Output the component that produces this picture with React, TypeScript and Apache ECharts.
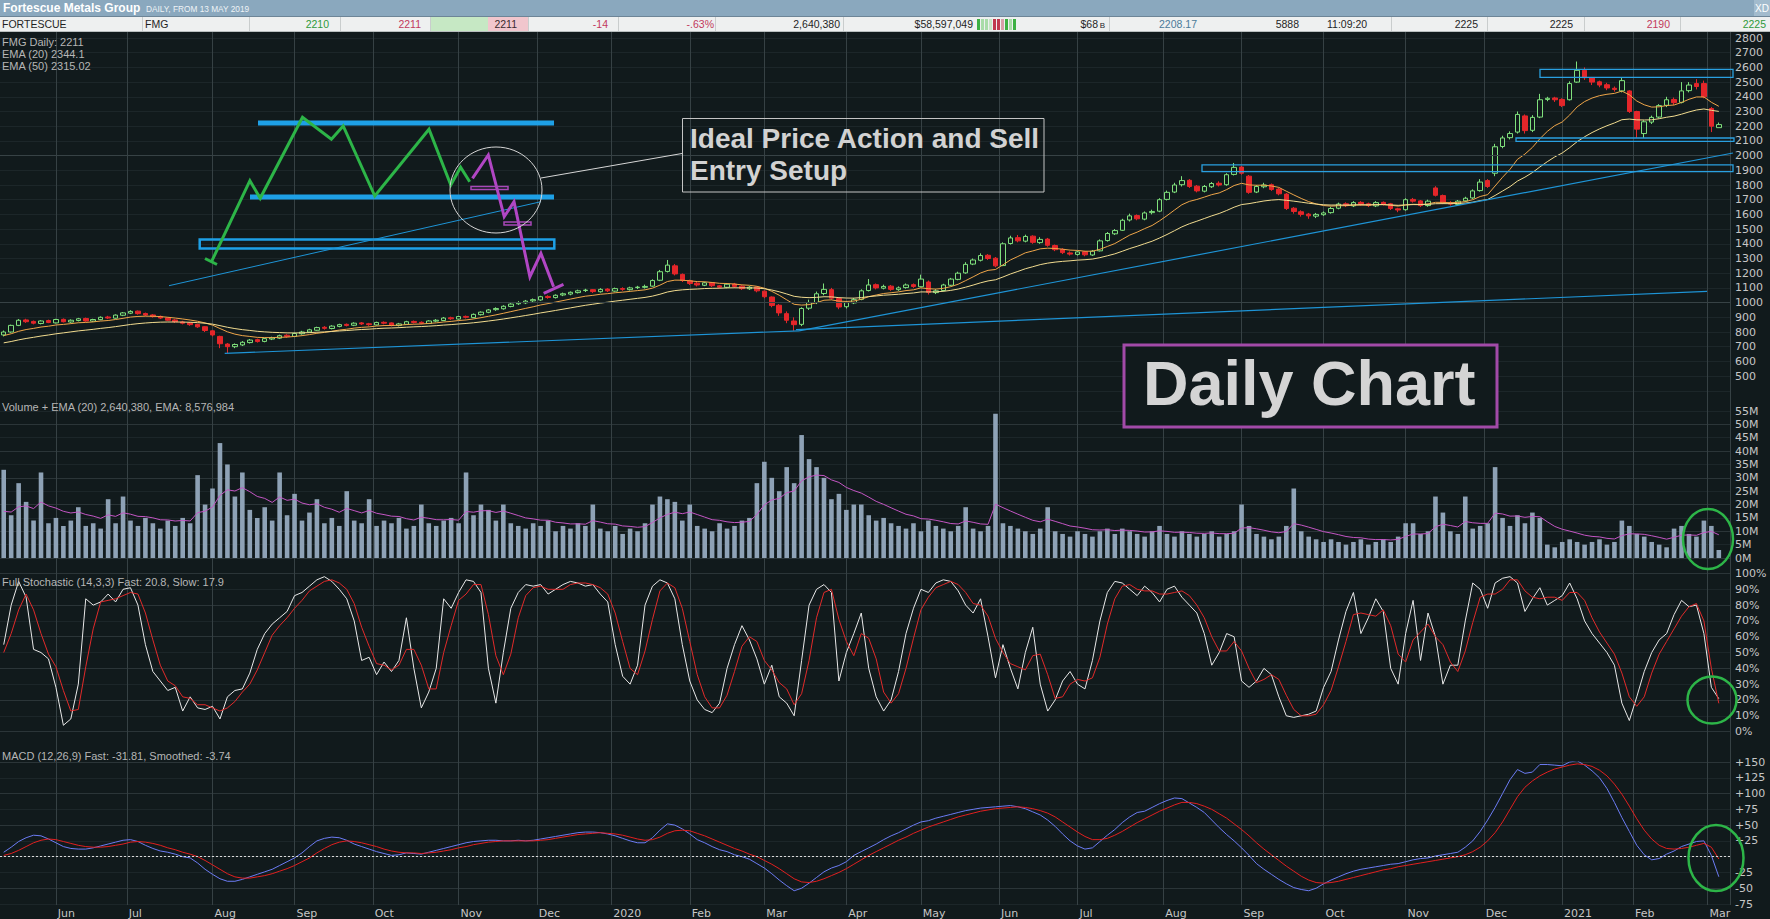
import React, { useEffect, useRef } from "react";
import * as echarts from "echarts";

// ---- price candles (2 trading days per bar), values in cents ----
const OPEN = [
  780,800,845,882,872,858,878,862,886,868,
  878,892,874,884,902,894,914,928,942,926,
  916,906,896,882,868,862,852,836,808,770,
  718,700,712,728,748,736,752,758,778,770,
  788,800,812,832,824,838,852,846,862,856,
  848,866,862,844,852,872,866,858,874,878,
  897,888,906,898,918,934,952,958,974,992,
  998,1012,1018,1042,1034,1052,1058,1068,1082,1088,
  1074,1092,1078,1096,1088,1102,1104,1112,1152,1212,
  1250,1192,1148,1132,1118,1136,1114,1104,1126,1112,
  1094,1106,1078,1038,982,925,875,852,962,1000,
  1062,1088,1028,972,998,1022,1082,1122,1098,1112,
  1088,1102,1122,1108,1140,1068,1082,1118,1158,1202,
  1262,1288,1322,1302,1252,1402,1442,1418,1452,1408,
  1432,1388,1362,1338,1328,1346,1324,1352,1422,1468,
  1492,1562,1592,1568,1612,1622,1702,1752,1802,1832,
  1792,1758,1788,1812,1802,1872,1922,1860,1752,1788,
  1802,1772,1738,1642,1618,1602,1588,1598,1612,1642,
  1672,1658,1682,1672,1658,1682,1672,1638,1632,1702,
  1692,1660,1780,1728,1678,1668,1692,1712,1762,1830,
  1880,2062,2122,2160,2270,2172,2262,2382,2392,2382,
  2380,2500,2580,2528,2502,2482,2458,2440,2440,2300,
  2150,2228,2262,2342,2382,2362,2442,2490,2490,2320,
  2190,
];
const CLOSE = [
  800,845,880,870,860,875,865,885,870,880,
  890,875,885,900,895,915,930,940,925,915,
  905,895,880,870,860,850,835,810,780,720,
  700,715,730,745,735,755,760,775,770,790,
  800,815,830,825,840,850,845,860,855,850,
  865,860,845,855,870,865,860,875,880,895,
  890,905,900,920,935,950,960,975,990,1000,
  1010,1020,1040,1035,1050,1060,1070,1080,1085,1075,
  1090,1080,1095,1090,1100,1105,1110,1150,1210,1255,
  1195,1150,1130,1120,1135,1115,1105,1125,1110,1095,
  1105,1080,1040,980,930,880,850,960,1000,1060,
  1090,1030,970,1000,1020,1080,1120,1100,1110,1090,
  1100,1120,1110,1160,1070,1080,1120,1160,1200,1260,
  1290,1320,1300,1250,1400,1440,1420,1450,1410,1430,
  1390,1360,1340,1330,1345,1325,1350,1420,1470,1490,
  1560,1590,1570,1610,1620,1700,1750,1800,1830,1790,
  1760,1790,1810,1800,1870,1920,1880,1750,1790,1800,
  1770,1740,1640,1620,1600,1590,1600,1610,1640,1670,
  1660,1680,1670,1660,1680,1670,1640,1630,1700,1690,
  1660,1690,1730,1680,1670,1690,1710,1760,1820,1790,
  2060,2120,2150,2280,2170,2260,2380,2390,2380,2340,
  2490,2580,2530,2500,2480,2460,2450,2510,2300,2180,
  2230,2260,2340,2380,2360,2440,2480,2470,2400,2200,
  2211,
];
const LOW = [
  770,795,840,862,852,852,860,858,865,862,
  872,870,868,880,888,890,908,922,918,908,
  898,888,874,862,852,842,828,800,770,690,
  655,690,705,722,728,730,745,752,762,765,
  782,795,808,816,818,832,838,840,848,842,
  844,852,838,838,848,858,852,854,868,874,
  882,884,892,894,912,928,944,952,968,984,
  990,1004,1012,1026,1028,1044,1050,1062,1072,1066,
  1068,1072,1074,1080,1082,1092,1096,1108,1146,1205,
  1185,1140,1120,1110,1112,1106,1096,1098,1100,1086,
  1086,1070,1030,968,910,860,808,840,950,990,
  1050,1020,955,960,990,1016,1076,1090,1090,1080,
  1080,1095,1100,1104,1055,1058,1076,1112,1152,1196,
  1255,1280,1290,1240,1248,1395,1410,1410,1400,1400,
  1380,1350,1330,1320,1320,1315,1318,1348,1415,1460,
  1488,1552,1560,1560,1600,1615,1695,1745,1790,1780,
  1750,1750,1780,1790,1795,1865,1870,1740,1745,1778,
  1760,1730,1630,1605,1585,1570,1575,1590,1605,1635,
  1650,1650,1660,1650,1650,1660,1630,1615,1625,1680,
  1650,1652,1722,1670,1660,1660,1685,1705,1755,1780,
  1860,2050,2110,2150,2150,2160,2255,2370,2365,2330,
  2375,2495,2515,2480,2465,2445,2435,2430,2290,2120,
  2120,2215,2255,2330,2345,2355,2430,2450,2390,2160,
  2190,
];
const HIGH = [
  810,850,888,890,878,880,884,890,892,886,
  896,898,890,906,910,920,936,948,946,932,
  922,912,900,888,876,868,856,840,812,775,
  725,722,738,752,755,760,768,782,785,796,
  808,822,836,840,846,856,858,866,868,862,
  870,872,866,862,876,878,872,880,888,902,
  904,910,912,926,940,956,968,982,996,1010,
  1018,1028,1046,1050,1056,1068,1076,1088,1094,1092,
  1098,1098,1102,1104,1108,1114,1122,1158,1222,1290,
  1262,1198,1156,1140,1142,1140,1120,1132,1134,1118,
  1112,1110,1082,1042,990,940,900,968,1020,1075,
  1130,1100,1035,1010,1032,1090,1160,1130,1122,1120,
  1110,1130,1130,1190,1150,1092,1128,1168,1210,1275,
  1300,1335,1330,1310,1410,1455,1460,1462,1458,1445,
  1440,1395,1370,1348,1352,1352,1358,1430,1480,1500,
  1570,1605,1600,1620,1632,1710,1762,1815,1860,1840,
  1800,1800,1820,1825,1880,1950,1930,1868,1800,1815,
  1810,1780,1745,1650,1628,1610,1610,1620,1650,1680,
  1682,1690,1690,1680,1690,1688,1678,1645,1710,1712,
  1698,1700,1792,1735,1690,1698,1720,1770,1840,1840,
  2080,2135,2165,2300,2280,2275,2420,2400,2400,2390,
  2505,2640,2600,2535,2510,2495,2470,2530,2445,2305,
  2240,2272,2350,2400,2395,2500,2500,2520,2510,2330,
  2225,
];
// ---- volume, millions of shares ----
const VOLUME_M = [
  33,16,28,21,14,32,13,15,12,14,
  19,12,13,11,22,13,23,14,12,15,
  13,11,14,12,15,13,31,20,26,43,
  35,23,32,18,15,19,14,32,16,24,
  14,17,22,13,15,12,25,14,13,22,
  12,14,13,15,11,12,20,13,12,14,
  15,13,32,16,20,18,14,20,13,12,
  11,13,12,14,10,12,11,13,12,20,
  11,10,12,9,11,10,13,20,23,22,
  21,14,20,12,11,10,13,11,12,14,
  15,28,36,30,25,34,28,46,37,34,
  30,22,24,18,20,20,16,14,15,13,
  12,11,13,10,14,12,11,10,12,19,
  11,10,12,54,13,12,11,10,9,11,
  19,10,9,8,10,9,8,10,11,9,
  11,10,9,8,10,12,9,8,10,9,
  8,9,10,8,9,10,20,12,9,8,
  7,8,12,26,10,8,7,6,7,6,
  5,6,7,5,6,7,6,8,13,13,
  9,10,23,17,10,9,23,11,12,13,
  34,15,12,16,13,17,15,5,4,6,
  7,6,5,6,7,5,6,14,12,9,
  8,6,5,4,11,12,9,8,14,12,
  3,
];
// ---- full stochastic (14,3,3) ----
const STOCH_FAST = [
  55,80,95,85,52,50,46,28,4,8,
  30,84,80,82,87,82,90,91,80,55,
  38,32,26,28,13,22,15,14,16,8,
  22,26,27,37,52,62,68,72,76,86,
  88,92,96,98,95,90,84,70,45,47,
  36,44,38,45,72,40,15,25,40,84,
  78,88,96,95,88,40,18,50,78,88,
  93,92,93,87,90,93,95,94,92,93,
  87,82,55,35,30,42,80,92,96,94,
  84,55,32,20,14,12,18,40,55,67,
  58,46,30,42,22,18,10,45,80,90,
  93,88,32,50,62,75,40,22,13,20,
  38,62,78,90,88,94,96,95,89,80,
  75,84,60,34,55,40,27,50,66,30,
  13,20,32,38,30,27,45,70,88,95,
  94,90,86,92,88,82,90,92,85,80,
  75,62,42,50,62,60,32,28,32,40,
  36,22,10,9,10,11,13,28,38,58,
  76,88,62,72,84,76,40,30,62,83,
  45,75,60,30,42,42,70,94,90,78,
  94,97,98,94,76,84,91,80,83,86,
  94,84,70,62,56,50,42,18,7,22,
  38,50,58,62,74,83,79,80,62,28,
  20.8,
];
const STOCH_SLOW = [
  50,62,77,87,77,62,49,41,26,13,
  14,41,65,82,83,84,86,88,87,75,
  58,42,32,29,22,21,17,17,15,13,
  15,19,25,30,39,50,61,67,72,78,
  83,89,92,95,96,94,90,81,66,54,
  43,42,39,42,52,52,42,27,27,50,
  67,83,87,93,93,74,48,36,49,72,
  86,91,92,90,90,90,93,94,94,93,
  91,87,75,57,40,36,51,71,89,94,
  91,78,57,36,22,15,15,23,38,54,
  60,57,45,39,31,27,17,24,45,72,
  88,90,71,57,48,62,59,46,25,18,
  24,40,59,77,85,91,93,95,93,88,
  81,80,73,59,50,43,41,39,48,49,
  36,21,22,30,33,32,34,47,68,84,
  92,93,90,89,89,87,87,88,89,86,
  80,72,60,51,51,57,51,40,31,33,
  36,33,23,14,10,10,11,17,26,41,
  57,74,75,74,73,77,67,49,44,58,
  63,68,60,55,44,38,51,69,85,87,
  87,90,96,96,89,85,84,85,85,83,
  88,88,83,72,63,56,49,37,22,16,
  22,37,49,57,65,73,79,81,70,40,
  17.9,
];
// ---- MACD (12,26,9) ----
const MACD_FAST = [
  7,15,24,30,34,33,28,22,16,13,
  12,12,14,17,20,23,26,27,24,18,
  13,9,7,4,0,-2,-10,-20,-28,-35,
  -39,-39,-36,-32,-28,-24,-20,-14,-8,-2,
  6,16,25,29,31,30,26,20,16,12,
  8,5,2,3,6,5,4,7,10,13,
  16,19,22,24,25,26,26,25,25,26,
  25,26,28,30,32,34,36,38,39,39,
  38,36,33,29,25,22,22,30,42,52,
  50,44,36,27,22,16,11,8,3,0,
  -4,-11,-18,-27,-37,-46,-54,-50,-42,-33,
  -24,-18,-14,-8,2,8,14,20,27,33,
  38,44,50,55,57,61,64,67,70,73,
  75,77,78,79,80,81,79,76,71,66,
  58,48,36,25,17,12,14,24,34,43,
  54,63,70,72,78,84,89,93,92,85,
  78,70,58,46,35,25,14,2,-11,-20,
  -28,-36,-43,-49,-52,-54,-50,-43,-37,-32,
  -27,-23,-20,-18,-16,-14,-12,-11,-8,-5,
  -3,-2,1,3,5,7,15,25,40,58,
  78,100,122,138,132,134,146,146,145,144,
  150,152,145,136,125,108,86,62,40,18,
  3,-5,-3,4,9,16,20,24,25,2,
  -31.81,
];
const MACD_SMOOTHED = [
  2,5,10,16,22,26,28,27,24,21,
  18,16,15,15,16,18,20,23,24,23,
  21,18,14,11,7,4,0,-6,-13,-20,
  -27,-32,-34,-34,-32,-30,-27,-23,-19,-14,
  -8,-2,6,13,19,23,25,24,22,19,
  16,12,9,7,6,6,5,6,7,9,
  11,14,16,19,21,23,24,25,25,25,
  25,25,26,27,29,31,33,35,36,37,
  38,37,36,34,31,28,26,27,31,37,
  41,42,41,37,33,28,23,18,13,9,
  4,0,-6,-12,-19,-27,-35,-40,-41,-39,
  -35,-30,-25,-19,-12,-5,2,8,14,20,
  26,31,37,42,47,51,55,59,63,66,
  69,72,74,76,77,78,79,78,76,73,
  69,63,55,47,39,32,27,27,29,34,
  40,47,54,60,66,72,77,82,86,86,
  84,80,75,68,61,52,43,33,22,12,
  3,-6,-15,-23,-31,-37,-41,-42,-41,-39,
  -36,-33,-30,-27,-24,-21,-19,-16,-14,-12,
  -10,-8,-6,-4,-2,0,3,8,15,25,
  38,55,75,95,110,120,128,134,139,142,
  145,147,146,143,137,128,115,99,80,60,
  42,28,18,13,12,13,15,18,21,15,
  -3.74,
];
// EMA starting levels (from the chart's left edge)
const EMA20_START = 770;
const EMA50_START = 720;
const VOL_EMA_START = 14;

const HOLIDAYS = [
  "2019-06-10","2019-12-25","2019-12-26","2020-01-01","2020-01-27","2020-04-10",
  "2020-04-13","2020-06-08","2020-12-25","2020-12-28","2021-01-01","2021-01-26",
];
const MONTHS = ["Jan","Feb","Mar","Apr","May","Jun","Jul","Aug","Sep","Oct","Nov","Dec"];

function buildDays(): string[] {
  const days: string[] = [];
  const d = new Date(Date.UTC(2019, 4, 13));
  while (days.length < CLOSE.length * 2) {
    const wd = d.getUTCDay();
    const s = d.toISOString().slice(0, 10);
    if (wd !== 0 && wd !== 6 && HOLIDAYS.indexOf(s) < 0) days.push(s);
    d.setUTCDate(d.getUTCDate() + 1);
  }
  return days;
}
const DAYS = buildDays();
// bar categories (two trading days per bar) plus one empty slot at the right edge
const CATS = CLOSE.map((_, i) => DAYS[2 * i]).concat([" "]);
// daily categories for the month grid and the month labels (same span)
const DAY_CATS = DAYS.concat([" ", "  "]);
const isDayMonthStart = (j: number) =>
  j > 0 && DAY_CATS[j].length === 10 && DAY_CATS[j - 1].length === 10 &&
  DAY_CATS[j].slice(5, 7) !== DAY_CATS[j - 1].slice(5, 7);

function ema(vals: number[], period: number, start: number) {
  const k = 2 / (period + 1);
  let prev = start;
  return vals.map((v) => {
    prev = v * k + prev * (1 - k);
    return Math.round(prev * 100) / 100;
  });
}

const FONT = '"Liberation Sans", Arial, sans-serif';
const AXFONT = '"DejaVu Sans", Verdana, sans-serif';
const BG = "#111a1c";

function txt(text: string, x: number, y: number, size: number, fill: string, align = "left", weight = "normal", z = 30) {
  return {
    type: "text",
    z,
    silent: true,
    style: {
      text, x, y, fill,
      font: `${weight} ${size}px ${FONT}`,
      textAlign: align, align,
      textVerticalAlign: "middle", verticalAlign: "middle",
    },
  };
}
function ln(x1: number, y1: number, x2: number, y2: number, stroke: string, lineWidth = 1, z = 20) {
  return { type: "line", z, silent: true, shape: { x1, y1, x2, y2 }, style: { stroke, lineWidth, fill: "none" } };
}
function box(x: number, y: number, width: number, height: number, stroke: string | null, fill: string, lineWidth = 1, z = 20) {
  return { type: "rect", z, silent: true, shape: { x, y, width, height }, style: { stroke, fill, lineWidth } };
}

function buildGraphic() {
  const g: any[] = [];
  // title bar
  g.push(box(0, 0, 1770, 16, null, "#8aa8be", 0, 28));
  g.push(txt("Fortescue Metals Group", 3, 8, 12, "#ffffff", "left", "bold"));
  g.push(txt("DAILY, FROM 13 MAY 2019", 146, 9, 8.3, "#eef3f6"));
  g.push(box(1754, 0, 16, 16, null, "#a2bbcd", 0, 29));
  g.push(txt("XD", 1762, 8, 10, "#ffffff", "center"));
  // quote row
  g.push(box(0, 16, 1770, 16, null, "#eef0f0", 0, 28));
  g.push(box(430, 16, 58, 16, null, "#c6e8c4", 0, 29));
  g.push(box(488, 16, 40, 16, null, "#f1c6cd", 0, 29));
  g.push(ln(0, 16.5, 1770, 16.5, "#6d8597", 1, 30));
  g.push(ln(0, 31.5, 1770, 31.5, "#b9bfbf", 1, 30));
  [142, 249, 340, 430, 528, 618, 715, 843, 1109, 1391, 1487, 1584, 1680].forEach((x) =>
    g.push(ln(x + 0.5, 17, x + 0.5, 31, "#c9cdcd", 1, 30))
  );
  const dark = "#1f1f1f", red = "#c23a5c", green = "#2f9a3a";
  g.push(txt("FORTESCUE", 2, 24, 10.5, dark));
  g.push(txt("FMG", 145, 24, 10.5, dark));
  g.push(txt("2210", 329, 24, 10.5, green, "right"));
  g.push(txt("2211", 421, 24, 10.5, red, "right"));
  g.push(txt("2211", 517, 24, 10.5, "#3a2a2e", "right"));
  g.push(txt("-14", 608, 24, 10.5, red, "right"));
  g.push(txt("-.63%", 714, 24, 10.5, red, "right"));
  g.push(txt("2,640,380", 840, 24, 10.5, dark, "right"));
  g.push(txt("$58,597,049", 973, 24, 10.5, dark, "right"));
  const mini = ["#3cb043", "#a9dca8", "#a9dca8", "#c8e6c6", "#c03a4e", "#c03a4e", "#d7a0aa", "#3cb043", "#a9dca8", "#3cb043"];
  mini.forEach((c, k) => g.push(box(977 + k * 4, 19, 3, 11, null, c, 0, 31)));
  g.push(txt("$68", 1098, 24, 10.5, dark, "right"));
  g.push(txt("B", 1105, 25, 8, dark, "right"));
  g.push(txt("2208.17", 1197, 24, 10.5, "#4b7a99", "right"));
  g.push(txt("5888", 1299, 24, 10.5, dark, "right"));
  g.push(txt("11:09:20", 1327, 24, 10.5, dark));
  g.push(txt("2225", 1478, 24, 10.5, dark, "right"));
  g.push(txt("2225", 1573, 24, 10.5, dark, "right"));
  g.push(txt("2190", 1670, 24, 10.5, red, "right"));
  g.push(txt("2225", 1766, 24, 10.5, green, "right"));

  // panel captions
  const cap = "#b6b6b6";
  g.push(txt("FMG Daily: 2211", 2, 42, 11, cap, "left", "normal", 25));
  g.push(txt("EMA (20) 2344.1", 2, 54, 11, cap, "left", "normal", 25));
  g.push(txt("EMA (50) 2315.02", 2, 66, 11, cap, "left", "normal", 25));
  g.push(txt("Volume + EMA (20) 2,640,380, EMA: 8,576,984", 2, 407, 11, cap, "left", "normal", 25));
  g.push(txt("Full Stochastic (14,3,3) Fast: 20.8, Slow: 17.9", 2, 582, 11, cap, "left", "normal", 25));
  g.push(txt("MACD (12,26,9) Fast: -31.81, Smoothed: -3.74", 2, 756, 11, cap, "left", "normal", 25));

  // drawn annotations
  const blue = "#1ea0e6";
  g.push(ln(258, 123, 554, 123, blue, 5));
  g.push(ln(250, 197, 554, 197, blue, 5));
  g.push(box(199.7, 239.5, 354.6, 9, blue, "none", 2.5));
  g.push(ln(169, 285.7, 541, 201.7, "#1e94d6", 1));
  g.push(ln(224.7, 353.4, 799, 330.8, "#1e94d6", 1.2));
  g.push(ln(799, 330.8, 1733, 153, "#1e94d6", 1.2));
  g.push(ln(796, 329.7, 1707, 291.3, "#1e94d6", 1.2));
  g.push(box(1202, 164.8, 531, 6.8, "#2aa0e0", "none", 1.3));
  g.push(box(1540, 69.3, 193, 8, "#2aa0e0", "none", 1.3));
  g.push(box(1516, 138, 218, 3.3, "#2aa0e0", "none", 1.3));

  const grn = "#2db548";
  g.push({
    type: "polyline", z: 21, silent: true,
    shape: { points: [[211.5, 261.7], [249.9, 180.7], [260.2, 198.3], [302.5, 117.3], [331.4, 139.3], [343.2, 126], [374.8, 196], [429, 129.3], [450.8, 185], [460.6, 167.3], [469.7, 181.7]] },
    style: { stroke: grn, lineWidth: 3, fill: "none", lineJoin: "miter" },
  });
  g.push(ln(205, 258.5, 217, 264.5, grn, 3, 21));
  const mag = "#b146c4";
  g.push({
    type: "polyline", z: 21, silent: true,
    shape: { points: [[472.5, 178.3], [488.3, 155], [504.2, 216.7], [514, 201.7], [529.9, 276.7], [540.9, 253.3], [553.6, 286.7]] },
    style: { stroke: mag, lineWidth: 3, fill: "none" },
  });
  g.push(ln(543.7, 293.3, 563.5, 284.3, mag, 3, 21));
  g.push(box(471, 186.5, 37, 3, "#a848b8", "none", 1.5, 21));
  g.push(box(504, 222, 27, 3, "#a848b8", "none", 1.5, 21));
  g.push({ type: "ellipse", z: 22, silent: true, shape: { cx: 496, cy: 190, rx: 46, ry: 43 }, style: { stroke: "#d6d6d6", lineWidth: 1, fill: "none" } });
  g.push(ln(541, 178, 682, 153.5, "#d6d6d6", 1, 22));
  g.push(box(682.5, 118.5, 361.5, 73.5, "#c4c4c4", "none", 1, 22));
  g.push(txt("Ideal Price Action and Sell", 690, 138, 28, "#d2d2d2", "left", "bold", 23));
  g.push(txt("Entry Setup", 690, 170, 28, "#d2d2d2", "left", "bold", 23));

  g.push(box(1124, 345, 373, 82, "#a24aa8", BG, 3, 22));
  g.push(txt("Daily Chart", 1143, 383, 63, "#d4d4d4", "left", "bold", 23));

  g.push({ type: "ellipse", z: 22, silent: true, shape: { cx: 1708, cy: 539, rx: 25, ry: 30 }, style: { stroke: grn, lineWidth: 2.5, fill: "none" } });
  g.push({ type: "ellipse", z: 22, silent: true, shape: { cx: 1712, cy: 700, rx: 24.5, ry: 23.5 }, style: { stroke: grn, lineWidth: 2.5, fill: "none" } });
  g.push({ type: "ellipse", z: 22, silent: true, shape: { cx: 1716, cy: 858, rx: 27.5, ry: 33 }, style: { stroke: grn, lineWidth: 2.5, fill: "none" } });
  return g;
}

function buildOption() {
  const candles = CLOSE.map((c, i) => [OPEN[i], c, LOW[i], HIGH[i]]);
  const ema20 = ema(CLOSE, 10, EMA20_START);
  const ema50 = ema(CLOSE, 25, EMA50_START);
  const volEma = ema(VOLUME_M, 10, VOL_EMA_START);

  const axLabel = { color: "#c6c6c6", fontFamily: AXFONT, fontSize: 11, margin: 5 };
  const grids = [
    { left: 0, right: 40, top: 38, height: 352.8 },
    { left: 0, right: 40, top: 411, height: 147 },
    { left: 0, right: 40, top: 573.5, height: 158.1 },
    { left: 0, right: 40, top: 762, height: 142 },
    { left: 0, right: 40, top: 32, height: 873 },
  ];
  const hidden = { axisLine: { show: false }, axisTick: { show: false }, axisLabel: { show: false }, splitLine: { show: false } };
  const xAxis: any[] = [0, 1, 2, 3].map((gi) => ({
    type: "category", gridIndex: gi, data: CATS, boundaryGap: true, ...hidden,
  }));
  // month grid lines across all panels (daily resolution)
  xAxis.push({
    type: "category", gridIndex: 4, data: DAY_CATS, boundaryGap: true, ...hidden,
    splitLine: { show: true, interval: (j: number) => isDayMonthStart(j), lineStyle: { color: "#364144", width: 1 } },
  });
  // month labels under the MACD panel (daily resolution)
  xAxis.push({
    type: "category", gridIndex: 3, data: DAY_CATS, boundaryGap: true, position: "bottom",
    axisLine: { show: false }, axisTick: { show: false }, splitLine: { show: false },
    axisLabel: {
      show: true,
      interval: (j: number) => isDayMonthStart(j),
      formatter: (v: string) => {
        const m = Number(v.slice(5, 7));
        return m === 1 ? v.slice(0, 4) : MONTHS[m - 1];
      },
      align: "left",
      color: "#c6c6c6",
      fontFamily: AXFONT,
      fontSize: 11,
      margin: 4,
    },
  });
  const yBase = { type: "value", position: "right", axisLine: { show: false }, axisTick: { show: false } };
  const yAxis = [
    {
      ...yBase, gridIndex: 0, min: 400, max: 2800, interval: 100,
      axisLabel: { ...axLabel, formatter: (v: number) => (v < 500 ? "" : String(v)) },
      splitLine: { show: true, lineStyle: { color: "#1c2629" } },
    },
    {
      ...yBase, gridIndex: 1, min: 0, max: 55, interval: 5,
      axisLabel: { ...axLabel, formatter: (v: number) => v + "M" },
      splitLine: { show: true, lineStyle: { color: ["#2b3538", "#1c2629"] } },
    },
    {
      ...yBase, gridIndex: 2, min: 0, max: 100, interval: 10,
      axisLabel: { ...axLabel, formatter: (v: number) => v + "%" },
      splitLine: { show: true, lineStyle: { color: ["#2b3538", "#1c2629"] } },
    },
    {
      ...yBase, gridIndex: 3, min: -75, max: 150, interval: 25,
      axisLabel: { ...axLabel, formatter: (v: number) => (v > 0 ? "+" + v : v === 0 ? "" : String(v)) },
      splitLine: { show: true, lineStyle: { color: ["#1c2629", "#2b3538"] } },
    },
    { type: "value", gridIndex: 4, show: false, min: 0, max: 1 },
  ];
  const line = (name: string, data: number[], xi: number, color: string, width = 1) => ({
    name, type: "line", xAxisIndex: xi, yAxisIndex: xi, data, showSymbol: false, symbol: "none",
    lineStyle: { color, width }, itemStyle: { color }, silent: true,
  });
  return {
    animation: false,
    backgroundColor: BG,
    grid: grids,
    xAxis,
    yAxis,
    series: [
      {
        name: "FMG", type: "candlestick", xAxisIndex: 0, yAxisIndex: 0, data: candles, barWidth: 5,
        itemStyle: { color: BG, color0: "#e4262a", borderColor: "#7fe07c", borderColor0: "#e4262a", borderWidth: 1 },
        markLine: {
          silent: true, symbol: ["none", "none"], label: { show: false },
          lineStyle: { color: "#374245", width: 1, type: "solid" },
          data: [{ yAxis: 1000 }, { yAxis: 2000 }],
        },
      },
      line("EMA (20)", ema20, 0, "#efa64a"),
      line("EMA (50)", ema50, 0, "#f2dc90"),
      {
        name: "Volume", type: "bar", xAxisIndex: 1, yAxisIndex: 1, data: VOLUME_M, barWidth: 4.6,
        itemStyle: { color: "#8ea2b6" }, silent: true,
      },
      line("Volume EMA", volEma, 1, "#c456c4"),
      line("Fast", STOCH_FAST, 2, "#e8e8e8"),
      line("Slow", STOCH_SLOW, 2, "#e22a2a"),
      line("MACD Fast", MACD_FAST, 3, "#6c7cf4"),
      {
        ...line("MACD Smoothed", MACD_SMOOTHED, 3, "#e22020"),
        markLine: {
          silent: true, symbol: ["none", "none"], label: { show: false },
          lineStyle: { color: "#d8d8d8", width: 1, type: [2, 2] },
          data: [{ yAxis: 0 }],
        },
      },
    ],
    graphic: buildGraphic(),
  };
}

export default function App() {
  const ref = useRef<HTMLDivElement>(null);
  useEffect(() => {
    if (!ref.current) return;
    const chart = echarts.init(ref.current, undefined, { renderer: "svg" });
    chart.setOption(buildOption() as any);
    return () => chart.dispose();
  }, []);
  return (
    <div
      ref={ref}
      style={{ position: "fixed", left: 0, top: 0, width: 1770, height: 919, background: BG }}
    />
  );
}
